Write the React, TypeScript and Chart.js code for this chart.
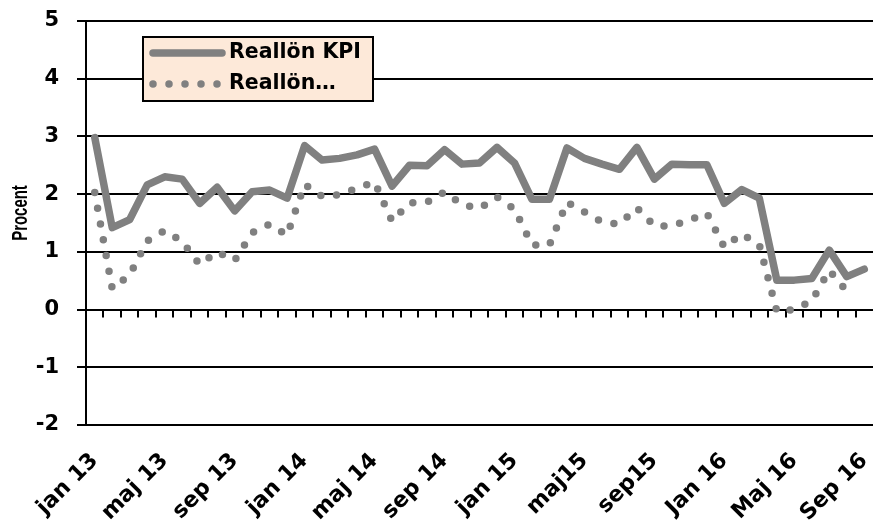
import React, { useEffect, useRef } from "react";
import { Chart, registerables } from "chart.js";

Chart.register(...registerables);

// 45 monthly categories, jan 2013 - sep 2016
const monthNames = ["jan", "feb", "mar", "apr", "maj", "jun", "jul", "aug", "sep", "okt", "nov", "dec"];
const years = ["13", "14", "15", "16"];
const categories: string[] = [];
years.forEach((yr) => monthNames.forEach((m) => categories.push(m + " " + yr)));
categories.length = 45;

// axis tick labels shown every 4th month
const tickLabels = ["jan 13", "maj 13", "sep 13", "jan 14", "maj 14", "sep 14", "jan 15", "maj15", "sep15", "Jan 16", "Maj 16", "Sep 16"];

const seriesNames = ["Reallön KPI", "Reallön…"];
const yTitle = "Procent";

const realKPI = [2.98, 1.42, 1.56, 2.16, 2.30, 2.26, 1.84, 2.12, 1.71, 2.04, 2.07, 1.93,
  2.84, 2.59, 2.62, 2.68, 2.78, 2.14, 2.50, 2.49, 2.77, 2.52, 2.54, 2.81,
  2.54, 1.91, 1.91, 2.80, 2.62, 2.52, 2.43, 2.81, 2.26, 2.52, 2.51, 2.51,
  1.84, 2.08, 1.93, 0.51, 0.51, 0.54, 1.03, 0.57, 0.70];

const realOther = [2.03, 0.36, 0.60, 1.19, 1.37, 1.18, 0.78, 1.00, 0.85, 1.33, 1.48, 1.29,
  2.17, 1.96, 1.99, 2.10, 2.21, 1.53, 1.85, 1.86, 2.04, 1.82, 1.75, 1.95,
  1.74, 1.12, 1.12, 1.86, 1.69, 1.52, 1.48, 1.76, 1.45, 1.45, 1.55, 1.67,
  1.08, 1.31, 1.12, -0.03, 0.00, 0.15, 0.68, 0.32, null];

const yMin = -2;
const yMax = 5;

const GRAY = "#808080";
const FONT = '"DejaVu Sans", sans-serif';

const zeroTicksPlugin = {
  id: "zeroTicks",
  beforeDatasetsDraw(chart: any) {
    const { ctx } = chart;
    const x = chart.scales.x;
    const y = chart.scales.y;
    const y0 = y.getPixelForValue(0);
    const n = chart.data.labels.length;
    const w = (x.right - x.left) / n;
    ctx.save();
    ctx.strokeStyle = "#000";
    ctx.lineWidth = 2;
    ctx.beginPath();
    for (let k = 1; k < n; k++) {
      const px = Math.round(x.getPixelForValue(k) - w / 2);
      ctx.moveTo(px, y0);
      ctx.lineTo(px, y0 + 8);
    }
    ctx.stroke();
    ctx.restore();
  },
};

const yTitlePlugin = {
  id: "yTitle",
  afterDraw(chart: any) {
    const { ctx } = chart;
    ctx.save();
    ctx.translate(21, 213);
    ctx.rotate(-Math.PI / 2);
    ctx.scale(0.68, 1);
    ctx.fillStyle = "#000";
    ctx.font = 'bold 22px "Liberation Sans", Arial, sans-serif';
    ctx.textAlign = "center";
    ctx.textBaseline = "middle";
    ctx.fillText(yTitle, 0, 0);
    ctx.restore();
  },
};

const boxLegendPlugin = {
  id: "boxLegend",
  afterDraw(chart: any) {
    const { ctx } = chart;
    const left = 143, top = 37, width = 230, height = 64;
    ctx.save();
    ctx.fillStyle = "#FDE9D9";
    ctx.fillRect(left, top, width, height);
    ctx.strokeStyle = "#000";
    ctx.lineWidth = 2;
    ctx.strokeRect(left, top, width, height);
    const rows = [53, 84];
    chart.data.datasets.forEach((ds: any, i: number) => {
      const ry = rows[i];
      ctx.beginPath();
      ctx.strokeStyle = ds.borderColor;
      ctx.lineWidth = ds.borderWidth;
      ctx.lineCap = "round";
      ctx.setLineDash(ds.borderDash || []);
      ctx.moveTo(153, ry);
      ctx.lineTo(ds.borderDash ? 220 : 222, ry);
      ctx.stroke();
      ctx.setLineDash([]);
      ctx.fillStyle = "#000";
      ctx.font = "bold 20.5px " + FONT;
      ctx.textBaseline = "middle";
      ctx.textAlign = "left";
      ctx.fillText(ds.label, 229, ry);
    });
    ctx.restore();
  },
};

export default function App() {
  const canvasRef = useRef<HTMLCanvasElement | null>(null);

  useEffect(() => {
    document.body.style.margin = "0";
    const canvas = canvasRef.current;
    if (!canvas) return;
    const chart = new Chart(canvas, {
      type: "line",
      data: {
        labels: categories,
        datasets: [
          {
            label: seriesNames[0],
            data: realKPI,
            borderColor: GRAY,
            backgroundColor: GRAY,
            borderWidth: 7.5,
            borderJoinStyle: "round",
            borderCapStyle: "round",
            pointRadius: 0,
            tension: 0,
          },
          {
            label: seriesNames[1],
            data: realOther,
            borderColor: GRAY,
            backgroundColor: GRAY,
            borderWidth: 7.5,
            borderDash: [0, 16],
            borderJoinStyle: "round",
            borderCapStyle: "round",
            pointRadius: 0,
            tension: 0,
          },
        ],
      },
      options: {
        animation: false,
        responsive: false,
        devicePixelRatio: 1,
        layout: { padding: { top: 21, right: 0, left: 0, bottom: 0 } },
        plugins: {
          legend: { display: false },
          tooltip: { enabled: false },
        },
        scales: {
          x: {
            type: "category",
            offset: true,
            grid: { display: false, drawTicks: false, offset: true },
            border: { display: false },
            ticks: {
              autoSkip: false,
              maxRotation: 45,
              minRotation: 45,
              padding: 23,
              labelOffset: 0,
              color: "#000",
              font: { family: FONT, size: 22, weight: "bold" },
              callback: (_v: any, idx: number) => (idx % 4 === 0 ? tickLabels[idx / 4] : ""),
            },
            afterFit: (scale: any) => {
              scale.height = 95;
              scale.paddingLeft = 0;
              scale.paddingRight = 0;
            },
          },
          y: {
            min: yMin,
            max: yMax,
            grid: {
              color: "#000",
              lineWidth: 2,
              tickLength: 9,
              drawTicks: true,
            },
            border: { display: true, color: "#000", width: 2 },
            ticks: {
              stepSize: 1,
              padding: 18,
              color: "#000",
              font: { family: FONT, size: 21, weight: "bold" },
            },
            afterFit: (scale: any) => {
              scale.width = 86;
              scale.paddingTop = 0;
              scale.paddingBottom = 0;
            },
          },
        },
      },
      plugins: [zeroTicksPlugin, yTitlePlugin, boxLegendPlugin],
    });
    return () => chart.destroy();
  }, []);

  return (
    <div style={{ width: 873, height: 520 }}>
      <canvas ref={canvasRef} width={873} height={520} style={{ display: "block" }} />
    </div>
  );
}
